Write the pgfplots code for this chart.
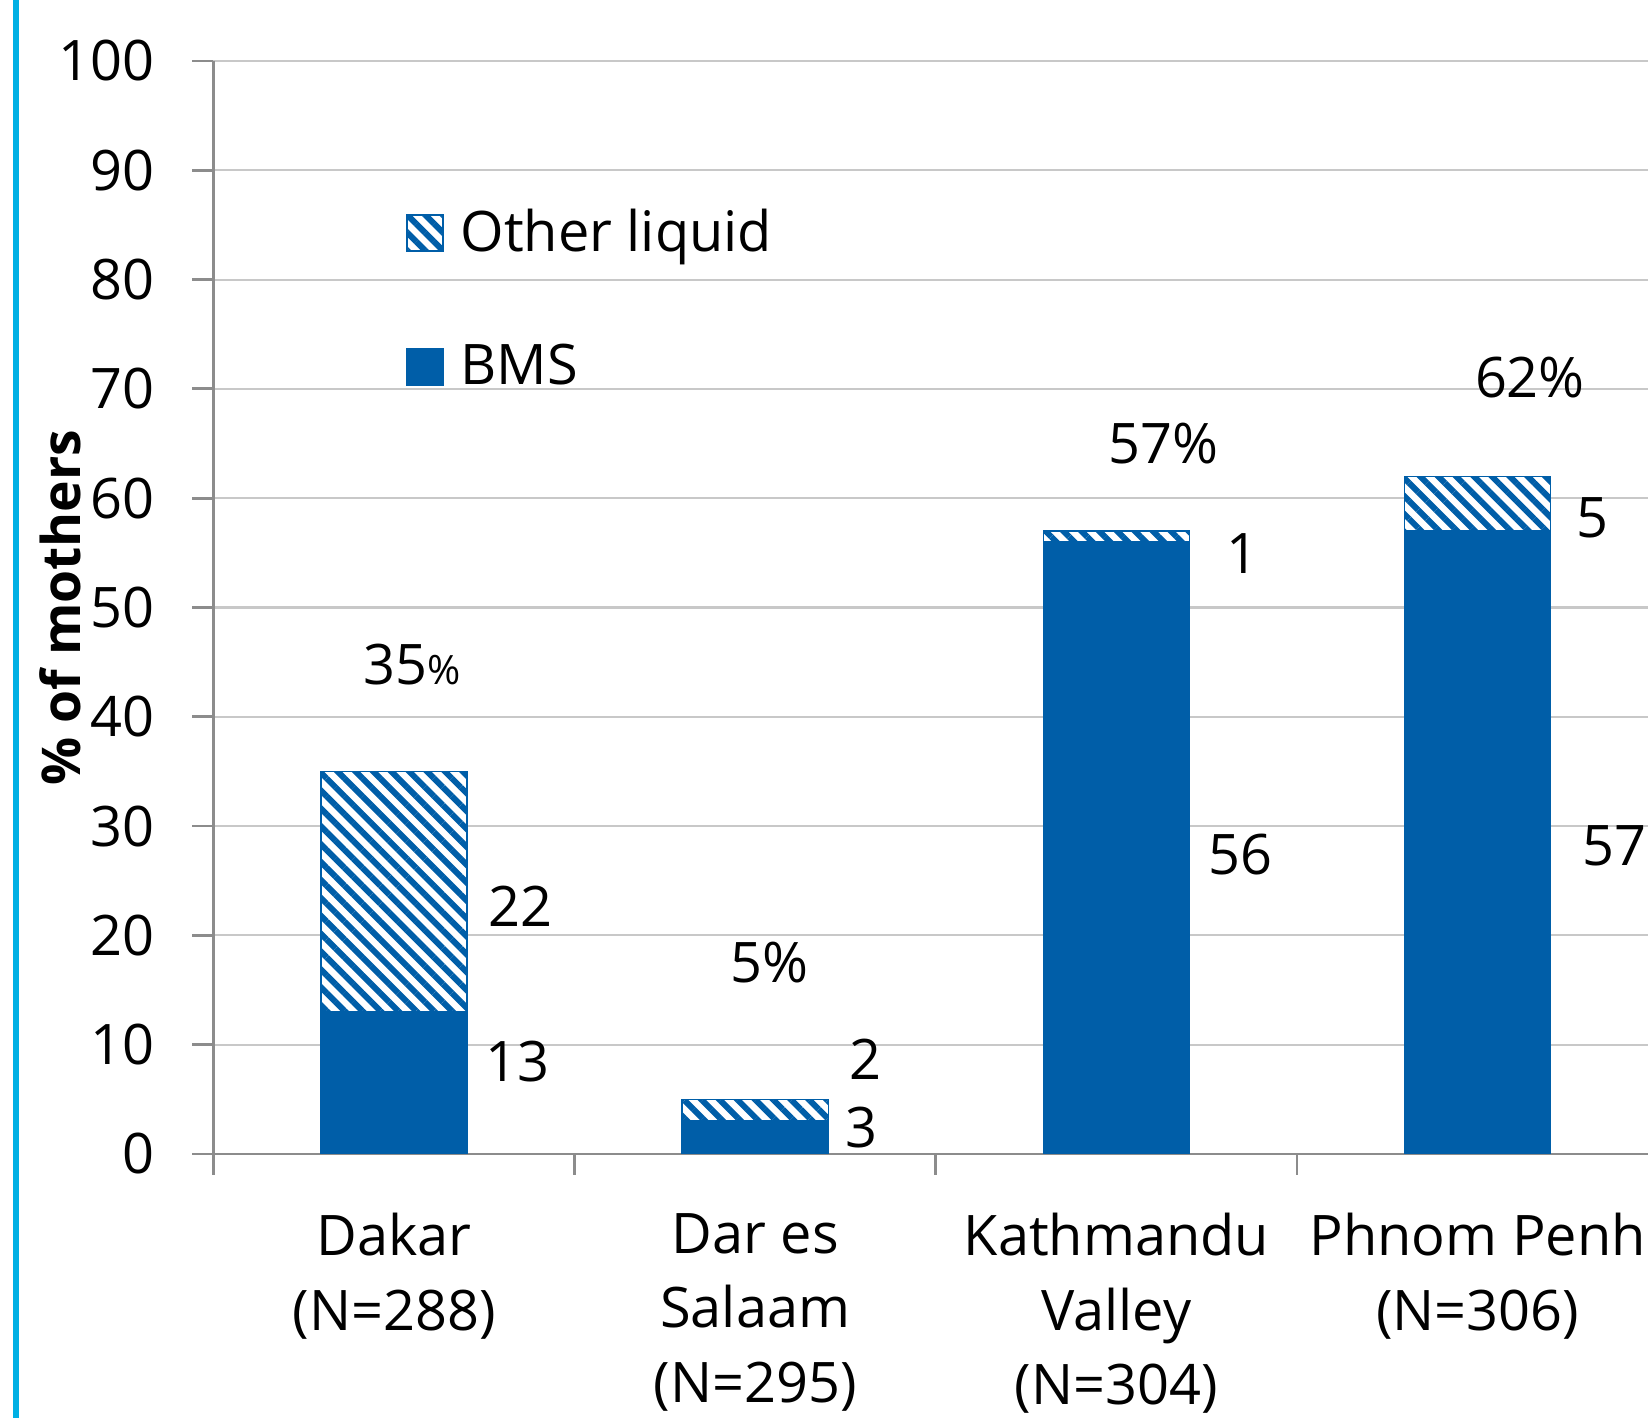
\documentclass[border=0pt]{standalone}
\usepackage{fontspec}
\setmainfont{Open Sans}
\usepackage{pgfplots}
\pgfplotsset{compat=1.18}
\usetikzlibrary{patterns.meta}
\definecolor{barblue}{RGB}{0,94,168}
\definecolor{gridgray}{RGB}{200,200,200}
\definecolor{axisgray}{RGB}{140,140,140}
\definecolor{edgecyan}{RGB}{0,176,228}
\pgfplotsset{
  mylegend/.style={legend image code/.code={\draw[##1] (0cm,-0.18cm) rectangle (0.36cm,0.18cm);}},
}
\begin{document}
\begin{tikzpicture}[font=\fontsize{15.9}{21.2}\selectfont]
\useasboundingbox (0,0) rectangle (16.48,14.18);
\clip (0,0) rectangle (16.48,14.18);
\fill[edgecyan] (0.133,0) rectangle (0.187,14.18);
\begin{axis}[
  at={(2.134cm,2.64cm)}, anchor=south west,
  scale only axis,
  width=14.448cm, height=10.93cm,
  xmin=-0.5, xmax=3.5, ymin=0, ymax=100,
  ybar stacked, bar width=1.46cm,
  axis x line*=bottom, axis y line*=left,
  axis line style={axisgray, line width=0.8pt, -},
  ytick={0,10,...,100},
  ymajorgrids, grid style={gridgray, line width=0.6pt},
  tick align=outside,
  major tick length=0.21cm,
  tick style={axisgray, line width=0.8pt},
  yticklabel style={xshift=-0.26cm},
  xtick={-0.5,0.5,1.5,2.5},
  xticklabels={},
  extra x ticks={0,1,2,3},
  extra x tick labels={{Dakar\\(N=288)},{Dar es\\Salaam\\(N=295)},{Kathmandu\\Valley\\(N=304)},{Phnom Penh\\(N=306)}},
  extra x tick style={major tick length=0pt, xticklabel style={align=center, anchor=north, yshift=-0.47cm}},
  /pgf/number format/assume math mode=true,
  ylabel={\bfseries\% of mothers},
  ylabel style={at={(axis description cs:-0.1059,0.5)}, anchor=center, font=\fontsize{15.2}{18}\selectfont},
  reverse legend,
  legend cell align=left,
  legend style={at={(axis cs:0.032,86.5)}, anchor=north west, draw=none, fill=none, row sep=0.87cm, inner sep=0pt, nodes={inner sep=0pt}, /tikz/every odd column/.append style={column sep=0.17cm}},
]
\addplot[fill=barblue, draw=barblue, mylegend] coordinates {(0,13) (1,3) (2,56) (3,57)};
\addlegendentry{BMS}
\addplot[fill=white, draw=barblue, postaction={pattern={Lines[angle=-45,distance=3.6pt,line width=1.7pt]}, pattern color=barblue}, mylegend] coordinates {(0,22) (1,2) (2,1) (3,5)};
\addlegendentry{Other liquid}
\node at (axis cs:0.35,22.7) {22};
\node at (axis cs:0.343,8.5) {13};
\node at (axis cs:1.305,8.7) {2};
\node at (axis cs:1.294,2.4) {3};
\node at (axis cs:2.35,54.9) {1};
\node at (axis cs:2.343,27.4) {56};
\node at (axis cs:3.317,58.2) {5};
\node at (axis cs:3.38,28.2) {57};
\node at (axis cs:0.05,44.8) {35{\fontsize{11.5}{14}\selectfont\%}};
\node at (axis cs:1.04,17.5) {5\%};
\node at (axis cs:2.13,65.0) {57\%};
\node at (axis cs:3.145,71.0) {62\%};
\end{axis}
\end{tikzpicture}
\end{document}
